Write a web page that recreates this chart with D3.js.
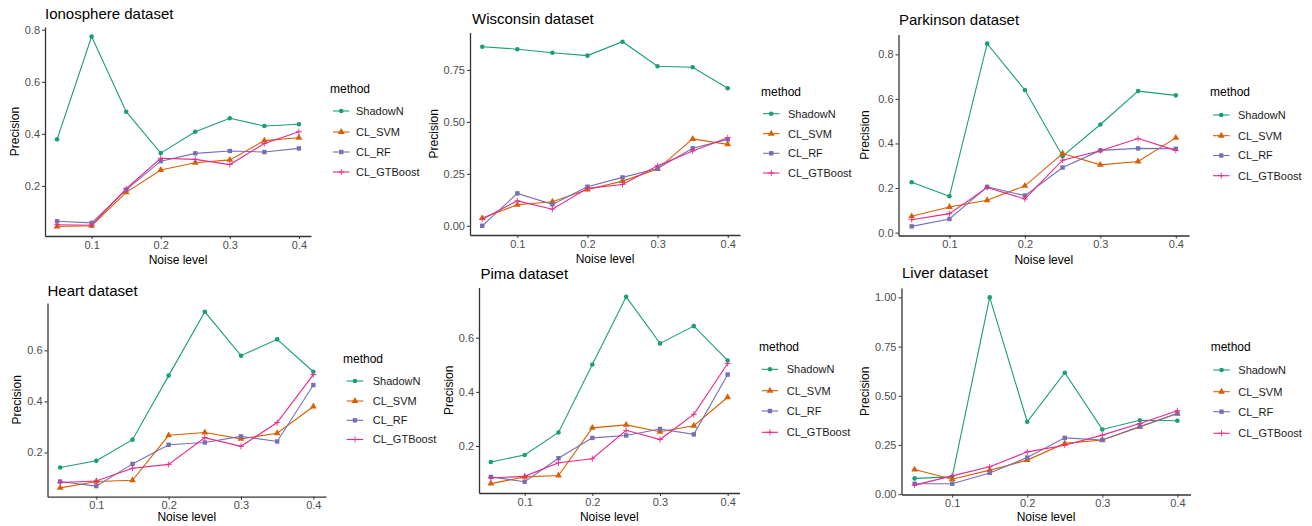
<!DOCTYPE html>
<html>
<head>
<meta charset="utf-8">
<script src="https://cdn.jsdelivr.net/npm/d3@7"></script>
<style>
  body { margin: 0; background: #fff; }
  svg { font-family: "Liberation Sans", Arial, sans-serif; }
</style>
</head>
<body>
<svg id="chart" width="1312" height="526"></svg>
<script>
// Precision vs noise level, six datasets

var noiseLevels = [0.05, 0.1, 0.15, 0.2, 0.25, 0.3, 0.35, 0.4];
var methods = ["ShadowN", "CL_SVM", "CL_RF", "CL_GTBoost"];
var xTicks = [0.1, 0.2, 0.3, 0.4];

// one row per method, same order as `methods`
var ionosphere = [
  [0.379, 0.774, 0.485, 0.326, 0.408, 0.460, 0.430, 0.437],
  [0.044, 0.047, 0.175, 0.261, 0.289, 0.300, 0.374, 0.385],
  [0.064, 0.058, 0.185, 0.295, 0.325, 0.334, 0.330, 0.344],
  [0.051, 0.049, 0.189, 0.306, 0.302, 0.282, 0.363, 0.408]
];
var wisconsin = [
  [0.862, 0.850, 0.833, 0.819, 0.886, 0.768, 0.763, 0.662],
  [0.037, 0.101, 0.116, 0.175, 0.215, 0.273, 0.418, 0.392],
  [0.000, 0.156, 0.103, 0.188, 0.233, 0.276, 0.373, 0.416],
  [0.032, 0.120, 0.080, 0.180, 0.199, 0.289, 0.360, 0.424]
];
var parkinson = [
  [0.226, 0.163, 0.848, 0.640, 0.343, 0.485, 0.635, 0.616],
  [0.073, 0.115, 0.145, 0.210, 0.355, 0.304, 0.319, 0.425],
  [0.028, 0.061, 0.205, 0.166, 0.292, 0.369, 0.378, 0.376],
  [0.058, 0.085, 0.202, 0.151, 0.325, 0.367, 0.422, 0.369]
];
var heart = [
  [0.141, 0.167, 0.250, 0.501, 0.751, 0.579, 0.643, 0.516],
  [0.061, 0.086, 0.091, 0.267, 0.278, 0.253, 0.275, 0.380],
  [0.086, 0.068, 0.155, 0.230, 0.239, 0.263, 0.243, 0.464],
  [0.082, 0.088, 0.138, 0.153, 0.258, 0.224, 0.317, 0.505]
];
var pima = [
  [0.141, 0.167, 0.250, 0.501, 0.751, 0.579, 0.643, 0.516],
  [0.061, 0.086, 0.091, 0.267, 0.278, 0.253, 0.275, 0.380],
  [0.086, 0.068, 0.155, 0.230, 0.239, 0.263, 0.243, 0.464],
  [0.082, 0.088, 0.138, 0.153, 0.258, 0.224, 0.317, 0.505]
];
var liver = [
  [0.080, 0.088, 1.000, 0.368, 0.617, 0.329, 0.376, 0.373],
  [0.125, 0.076, 0.122, 0.173, 0.258, 0.275, 0.342, 0.410],
  [0.053, 0.053, 0.108, 0.186, 0.286, 0.275, 0.344, 0.410],
  [0.046, 0.093, 0.139, 0.215, 0.249, 0.300, 0.359, 0.424]
];

var ticksPoint2 = [0.2, 0.4, 0.6, 0.8];
var ticksQuarter = [0, 0.25, 0.5, 0.75];
var ticksParkinson = [0, 0.2, 0.4, 0.6, 0.8];
var ticksHeart = [0.2, 0.4, 0.6];
var ticksLiver = [0, 0.25, 0.5, 0.75, 1];

var colors = ["#1b9e77", "#d95f02", "#7570b3", "#e7298a"];

// where each panel sits on the page
var panels = [
  {title: "Ionosphere dataset", data: ionosphere, yTicks: ticksPoint2, fmt: ".1f",
   box: [45, 311, 27, 236], titleXY: [45, 19], yLabX: 15,
   legend: {x: 330, y: 89, keyX: 333, labX: 356, items: [111, 132, 152, 172]}},
  {title: "Wisconsin dataset", data: wisconsin, yTicks: ticksQuarter, fmt: ".2f",
   box: [470, 740, 32.5, 235], titleXY: [472, 23.5], yLabX: 434,
   legend: {x: 761, y: 92, keyX: 763, labX: 788, items: [113.7, 133.7, 153.3, 173]}},
  {title: "Parkinson dataset", data: parkinson, yTicks: ticksParkinson, fmt: ".1f",
   box: [898.5, 1189, 34.5, 235.5], titleXY: [899, 25], yLabX: 865,
   legend: {x: 1210, y: 92, keyX: 1213, labX: 1238, items: [115, 135.7, 155.5, 175.7]}},
  {title: "Heart dataset", data: heart, yTicks: ticksHeart, fmt: ".1f",
   box: [47.5, 326, 303, 496.7], titleXY: [47.5, 296], yLabX: 16.5,
   legend: {x: 343, y: 359, keyX: 346.7, labX: 372.7, items: [381, 401, 420.3, 439.5]}},
  {title: "Pima dataset", data: pima, yTicks: ticksHeart, fmt: ".1f",
   box: [479, 739.5, 287.5, 493], titleXY: [480.5, 278.5], yLabX: 449,
   legend: {x: 759, y: 346.7, keyX: 761.7, labX: 786.7, items: [369.3, 390.7, 411, 432.3]}},
  {title: "Liver dataset", data: liver, yTicks: ticksLiver, fmt: ".2f",
   box: [901.5, 1190.5, 288, 494.5], titleXY: [902, 278], yLabX: 865,
   legend: {x: 1210.7, y: 347.3, keyX: 1213.3, labX: 1238.3, items: [370, 391.7, 411.7, 433.3]}}
];

var svg = d3.select("#chart");

// ggplot-style 5% expansion
var expand = function (lo, hi) {
  var pad = (hi - lo) * 0.05;
  return [lo - pad, hi + pad];
};

// point shapes: circle, triangle, square, plus
var drawShape = function (g, i, cx, cy) {
  var c = colors[i];
  if (i === 0) {
    g.append("circle").attr("cx", cx).attr("cy", cy).attr("r", 2.3).attr("fill", c);
  } else if (i === 1) {
    g.append("path").attr("transform", "translate(" + cx + "," + cy + ")")
      .attr("d", d3.symbol(d3.symbolTriangle, 20)()).attr("fill", c);
  } else if (i === 2) {
    g.append("rect").attr("x", cx - 2.2).attr("y", cy - 2.2)
      .attr("width", 4.4).attr("height", 4.4).attr("fill", c);
  } else {
    g.append("path").attr("d", "M" + (cx - 3) + "," + cy + "h6M" + cx + "," + (cy - 3) + "v6")
      .attr("stroke", c).attr("stroke-width", 0.9).attr("fill", "none");
  }
};

panels.forEach(function (p) {
  var left = p.box[0], right = p.box[1], top = p.box[2], bottom = p.box[3];
  var all = d3.merge(p.data);

  var x = d3.scaleLinear()
    .domain(expand(d3.min(noiseLevels), d3.max(noiseLevels)))
    .range([left, right]);
  var y = d3.scaleLinear()
    .domain(expand(d3.min(all), d3.max(all)))
    .range([bottom, top]);

  var g = svg.append("g");

  // axes
  var xAxis = g.append("g").attr("transform", "translate(0," + bottom + ")")
    .call(d3.axisBottom(x).tickValues(xTicks).tickFormat(d3.format(".1f"))
      .tickSizeInner(3).tickSizeOuter(0).tickPadding(2));
  var yAxis = g.append("g").attr("transform", "translate(" + left + ",0)")
    .call(d3.axisLeft(y).tickValues(p.yTicks).tickFormat(d3.format(p.fmt))
      .tickSizeInner(3).tickSizeOuter(0).tickPadding(2));
  [xAxis, yAxis].forEach(function (a) {
    a.select(".domain").attr("stroke", "#333").attr("stroke-width", 1.3);
    a.selectAll(".tick line").attr("stroke", "#333").attr("stroke-width", 1);
    a.selectAll(".tick text").attr("fill", "#4d4d4d")
      .style("font-size", "11px").style("font-family", "Liberation Sans, Arial, sans-serif");
  });

  // lines then points
  var line = d3.line()
    .x(function (d, j) { return x(noiseLevels[j]); })
    .y(function (d) { return y(d); });
  p.data.forEach(function (vals, i) {
    g.append("path").datum(vals).attr("d", line)
      .attr("fill", "none").attr("stroke", colors[i]).attr("stroke-width", 1.1);
  });
  p.data.forEach(function (vals, i) {
    vals.forEach(function (v, j) {
      drawShape(g, i, x(noiseLevels[j]), y(v));
    });
  });

  // titles
  g.append("text").attr("x", p.titleXY[0]).attr("y", p.titleXY[1])
    .style("font-size", "15px").attr("fill", "#000").text(p.title);
  g.append("text").attr("x", (left + right) / 2).attr("y", Math.min(bottom + 28, 521))
    .attr("text-anchor", "middle").style("font-size", "12px").text("Noise level");
  g.append("text")
    .attr("transform", "translate(" + (p.yLabX + 4) + "," + ((top + bottom) / 2) + ") rotate(-90)")
    .attr("text-anchor", "middle").style("font-size", "12px").text("Precision");

  // legend
  var L = p.legend;
  g.append("text").attr("x", L.x).attr("y", L.y + 4)
    .style("font-size", "12px").text("method");
  methods.forEach(function (m, i) {
    var cy = L.items[i];
    g.append("line").attr("x1", L.keyX).attr("x2", L.keyX + 16.5)
      .attr("y1", cy).attr("y2", cy)
      .attr("stroke", colors[i]).attr("stroke-width", 1.1);
    drawShape(g, i, L.keyX + 8.25, cy);
    g.append("text").attr("x", L.labX).attr("y", cy + 3.8)
      .style("font-size", "11px").attr("fill", "#1a1a1a").text(m);
  });
});
</script>
</body>
</html>
